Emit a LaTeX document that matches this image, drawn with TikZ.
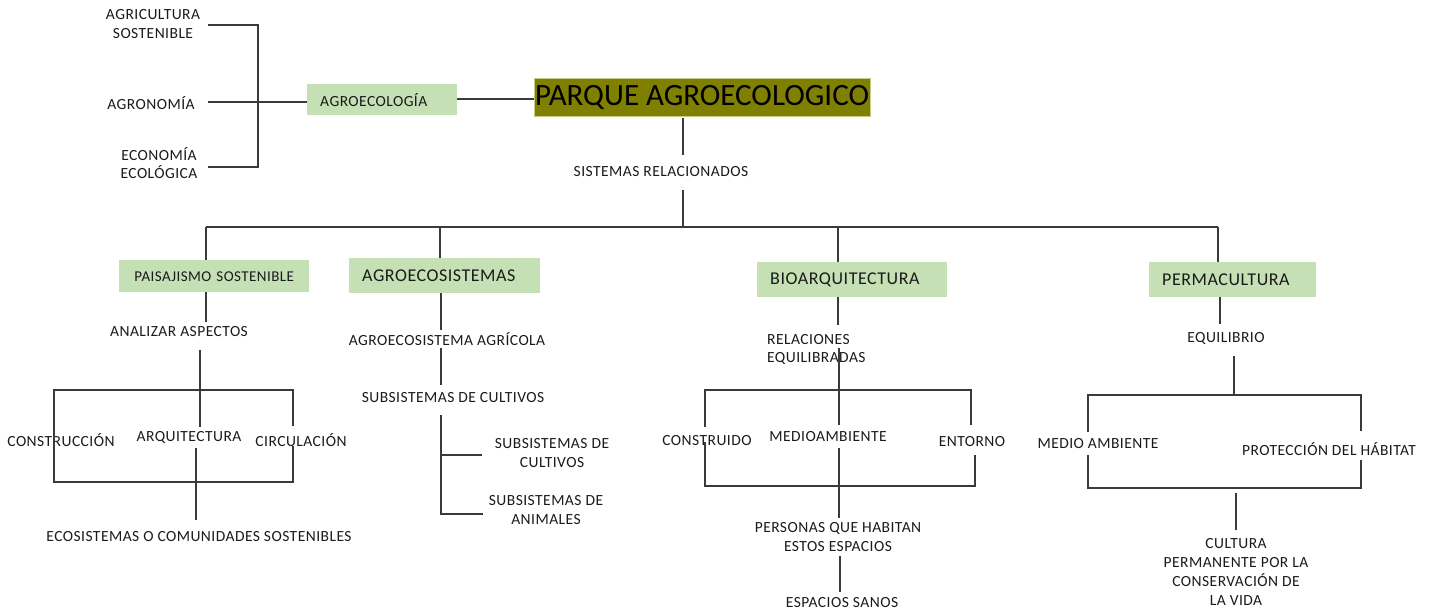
\documentclass[tikz,border=0pt]{standalone}
\usepackage{fontspec}
\setmainfont{Carlito}
\newfontfamily\lbfam{Carlito}[LetterSpace=3]
\definecolor{boxgreen}{HTML}{C5E0B4}
\definecolor{olivebox}{HTML}{808000}
\definecolor{olivebord}{HTML}{C9C98A}
\definecolor{linegray}{HTML}{3A3A3A}
\definecolor{txt}{HTML}{1A1A1A}
\begin{document}
\begin{tikzpicture}[x=1pt,y=-1pt,
  lbl/.style={font=\lbfam\fontsize{15.5}{18.8}\selectfont, text=txt, inner sep=0pt, align=center},
  gbox/.style={fill=boxgreen, inner sep=0pt, anchor=north west, text=txt},
  ln/.style={draw=linegray, line width=1.3pt}]
\useasboundingbox (0,0) rectangle (1431,614);
% ---- title and agroecologia
\node[fill=olivebox, draw=olivebord, line width=0.6pt, minimum width=336pt, minimum height=38pt, inner sep=0pt,
      font=\fontsize{31}{34}\selectfont, text=black] (parque) at (702,97) {\raisebox{-1.5pt}{PARQUE AGROECOLOGICO}};
\node[gbox, minimum width=150pt, minimum height=31pt, text width=124pt, align=left,
      font=\lbfam\fontsize{15.5}{18}\selectfont] (agroeco) at (307,84) {\hspace*{0pt}AGROECOLOGÍA};
\node[lbl] (agri) at (153,24) {AGRICULTURA\\SOSTENIBLE};
\node[lbl] (agron) at (151,103) {AGRONOMÍA};
\node[lbl] (econ) at (159,163) {ECONOMÍA\\ECOLÓGICA};
\coordinate (b1) at (208,25);
\coordinate (b2) at (258,25);
\coordinate (b3) at (258,167);
\coordinate (b4) at (208,167);
\coordinate (b5) at (208,102);
\draw[ln] (b1) -- (b2) -- (b3) -- (b4);
\draw[ln] (b5) -- (agroeco.west |- b5);
\draw[ln] (agroeco.east |- 0,99) -- (parque.west |- 0,99);
% ---- trunk
\node[lbl] (sist) at (661,172) {SISTEMAS RELACIONADOS};
\draw[ln] (683,118) -- (683,155);
\draw[ln] (683,190) -- (683,227);
\draw[ln] (206,227) -- (1218,227);
% ---- green boxes
\node[gbox, minimum width=190pt, minimum height=32pt, text width=190pt, align=center,
      font=\lbfam\fontsize{15}{18}\selectfont] (paisaj) at (119,260) {PAISAJISMO SOSTENIBLE};
\node[gbox, minimum width=191pt, minimum height=35pt, text width=165pt, align=left,
      font=\lbfam\fontsize{18}{21}\selectfont] (agroecos) at (349,258) {AGROECOSISTEMAS};
\node[gbox, minimum width=190pt, minimum height=35pt, text width=164pt, align=left,
      font=\lbfam\fontsize{18}{21}\selectfont] (bioarq) at (757,262) {BIOARQUITECTURA};
\node[gbox, minimum width=167pt, minimum height=35pt, text width=141pt, align=left,
      font=\lbfam\fontsize{18}{21}\selectfont] (perma) at (1149,262) {PERMACULTURA};
\draw[ln] (206,227) -- (206,260);
\draw[ln] (440,227) -- (440,258);
\draw[ln] (838,227) -- (838,262);
\draw[ln] (1218,227) -- (1218,262);
% ---- paisajismo branch
\node[lbl] (anal) at (179,332) {ANALIZAR ASPECTOS};
\node[lbl] (constr) at (61,440) {CONSTRUCCIÓN};
\node[lbl] (arq) at (189,437) {ARQUITECTURA};
\node[lbl] (circ) at (301,440) {CIRCULACIÓN};
\node[lbl] (ecos) at (199,537) {ECOSISTEMAS O COMUNIDADES SOSTENIBLES};
\draw[ln] (206,292) -- (206,322);
\draw[ln] (200,350) -- (200,427);
\draw[ln] (54,483) -- (54,390) -- (293,390) -- (293,426);
\draw[ln] (293,446) -- (293,482) -- (54,482);
\draw[ln] (196,448) -- (196,520);
% ---- agroecosistemas branch
\node[lbl] (agric) at (447,339) {AGROECOSISTEMA AGRÍCOLA};
\node[lbl] (subs) at (453,398) {SUBSISTEMAS DE CULTIVOS};
\node[lbl] (sub1) at (552,453) {SUBSISTEMAS DE\\CULTIVOS};
\node[lbl] (sub2) at (546,510) {SUBSISTEMAS DE\\ANIMALES};
\draw[ln] (441,293) -- (441,330);
\draw[ln] (441,348) -- (441,385);
\draw[ln] (441,415) -- (441,514) -- (483,514);
\draw[ln] (441,455) -- (482,455);
% ---- bioarquitectura branch
\node[lbl, align=left, anchor=west] (rel) at (767,349.5) {RELACIONES\\EQUILIBRADAS};
\node[lbl] (constru) at (707,441) {CONSTRUIDO};
\node[lbl] (medioa) at (828,437) {MEDIOAMBIENTE};
\node[lbl] (ent) at (972,442) {ENTORNO};
\node[lbl] (pers) at (838,537) {PERSONAS QUE HABITAN\\ESTOS ESPACIOS};
\node[lbl] (espa) at (842,603) {ESPACIOS SANOS};
\draw[ln] (838,297) -- (838,325);
\draw[ln] (839,348) -- (839,425);
\draw[ln] (705,427) -- (705,390) -- (971,390) -- (971,425);
\draw[ln] (705,442) -- (705,486) -- (975,486) -- (975,455);
\draw[ln] (839,448) -- (839,518);
\draw[ln] (840,556) -- (840,592);
% ---- permacultura branch
\node[lbl] (equi) at (1226,338) {EQUILIBRIO};
\node[lbl] (medio) at (1098,444) {MEDIO AMBIENTE};
\node[lbl] (prot) at (1329,449) {PROTECCIÓN DEL HÁBITAT};
\node[lbl] (cult) at (1236,572) {CULTURA\\PERMANENTE POR LA\\CONSERVACIÓN DE\\LA VIDA};
\draw[ln] (1220,297) -- (1220,324);
\draw[ln] (1234,356) -- (1234,395);
\draw[ln] (1088,432) -- (1088,395) -- (1361,395) -- (1361,431);
\draw[ln] (1088,455) -- (1088,488) -- (1361,488) -- (1361,460);
\draw[ln] (1236,493) -- (1236,530);
\end{tikzpicture}
\end{document}
